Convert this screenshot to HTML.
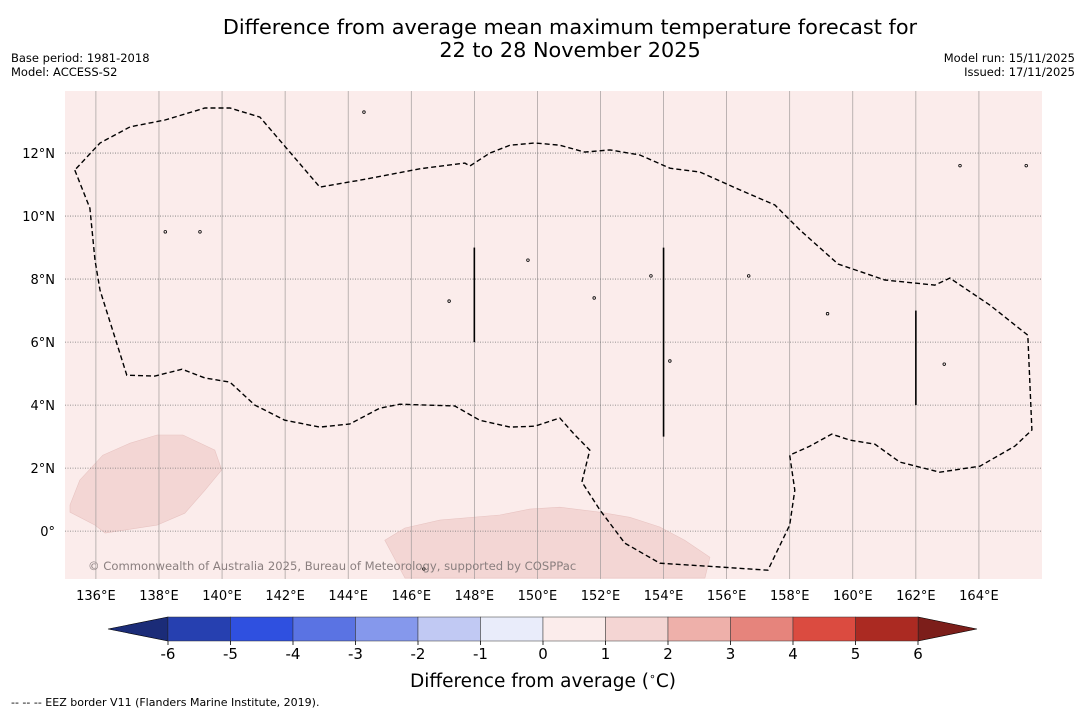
<!DOCTYPE html>
<html><head><meta charset="utf-8"><style>
html,body{margin:0;padding:0;background:#fff;}
svg{display:block;font-family:"DejaVu Sans","Liberation Sans",sans-serif;}
</style></head><body>
<svg id="chart" width="1085" height="713" viewBox="0 0 1085 713">
<text x="570" y="34" font-size="20.8" text-anchor="middle">Difference from average mean maximum temperature forecast for</text>
<text x="570" y="57" font-size="20.8" text-anchor="middle">22 to 28 November 2025</text>
<text x="11" y="62" font-size="11.5">Base period: 1981-2018</text>
<text x="11" y="76" font-size="11.5">Model: ACCESS-S2</text>
<text x="1075" y="62" font-size="11.5" text-anchor="end">Model run: 15/11/2025</text>
<text x="1075" y="76" font-size="11.5" text-anchor="end">Issued: 17/11/2025</text>
<g id="map"></g>
<g id="cbar"></g>
<text x="543" y="687" font-size="18.5" text-anchor="middle">Difference from average (<tspan font-size="11" dy="-7">∘</tspan><tspan dy="7">C)</tspan></text>
<text x="11" y="706" font-size="11">--  --  -- EEZ border V11 (Flanders Marine Institute, 2019).</text>
</svg>
<script>
const lonTicks=[136,138,140,142,144,146,148,150,152,154,156,158,160,162,164];
const latTicks=[0,2,4,6,8,10,12];
const cbarTicks=[-6,-5,-4,-3,-2,-1,0,1,2,3,4,5,6];
const cbarColors=["#2640b0","#2f50e0","#5a73e3","#8598ec","#c1c9f3","#e9ecfa","#fbeceb","#f4d5d3","#eeb0aa","#e6847c","#db4b40","#ab2a22"];
const eezLon=[135.33,135.81,135.97,136.13,136.98,137.87,138.73,139.46,140.25,141.04,141.99,143.10,144.05,145.0,145.64,147.38,148.17,149.13,149.92,150.71,151.19,151.66,151.41,151.98,152.77,153.88,155.78,157.31,158.0,158.16,158.0,158.64,159.33,159.91,160.70,161.49,162.76,164.03,165.14,165.68,165.55,164.35,163.08,162.6,161.02,159.53,158.32,157.53,156.42,155.15,154.2,153.25,152.30,151.50,150.71,149.92,149.13,148.49,147.86,147.70,146.27,144.37,143.10,141.2,140.25,139.46,138.19,137.08,136.13,135.33];
const eezLat=[11.46,10.25,8.60,7.65,4.95,4.92,5.14,4.86,4.73,4.0,3.52,3.30,3.40,3.90,4.03,3.97,3.52,3.30,3.33,3.59,3.05,2.57,1.56,0.67,-0.38,-1.02,-1.14,-1.24,0.19,1.30,2.41,2.70,3.08,2.89,2.76,2.19,1.87,2.06,2.70,3.21,6.22,7.17,8.03,7.81,7.97,8.48,9.56,10.35,10.83,11.40,11.52,11.94,12.10,12.03,12.25,12.32,12.25,12.0,11.59,11.68,11.50,11.14,10.92,13.14,13.43,13.43,13.05,12.83,12.32,11.46];
const blob1Lon=[135.18,135.49,136.22,137.08,137.94,138.76,139.77,139.99,139.46,138.82,137.94,136.29,135.97,135.18];
const blob1Lat=[0.83,1.62,2.41,2.79,3.05,3.05,2.57,1.94,1.30,0.57,0.19,-0.06,0.19,0.60];
const blob2Lon=[145.16,145.80,146.91,148.81,149.76,150.71,151.98,152.93,153.88,154.67,155.47,155.31,145.8];
const blob2Lat=[-0.29,0.10,0.35,0.51,0.70,0.76,0.60,0.44,0.13,-0.29,-0.83,-1.49,-1.49];
const lineLon=[148,154,162];
const lineLat0=[6,3,4];
const lineLat1=[9,9,7];
const islandLon=[144.5,139.3,156.7,159.2,162.9,154.2,151.8,153.6,147.2,149.7,138.2,163.4,165.5,146.4];
const islandLat=[13.3,9.5,8.1,6.9,5.3,5.4,7.4,8.1,7.3,8.6,9.5,11.6,11.6,-1.2];

const NS="http://www.w3.org/2000/svg";
const X0=65,X1=1042,Y0=91,Y1=579,LON0=135.02,LON1=166.0,LAT0=-1.52,LAT1=13.97;
const px=lon=>X0+(lon-LON0)/(LON1-LON0)*(X1-X0);
const py=lat=>Y1-(lat-LAT0)/(LAT1-LAT0)*(Y1-Y0);
function mk(tag,attrs,parent){const e=document.createElementNS(NS,tag);for(const k in attrs)e.setAttribute(k,attrs[k]);parent.appendChild(e);return e;}
const map=document.getElementById('map');
const defs=mk('defs',{},map);
const cp=mk('clipPath',{id:'clip'},defs);
mk('rect',{x:X0,y:Y0,width:X1-X0,height:Y1-Y0},cp);
let bg=mk('rect',{x:X0,y:Y0,width:X1-X0,height:Y1-Y0,fill:'#fbeceb'},map);


const g=mk('g',{'clip-path':'url(#clip)'},map);
function poly(lons,lats){return lons.map((l,i)=>px(l).toFixed(1)+','+py(lats[i]).toFixed(1)).join(' ');}
let b1=mk('polygon',{points:poly(blob1Lon,blob1Lat),fill:'#f3d6d4',stroke:'#e8c4c2','stroke-width':0.6},g);


let b2=mk('polygon',{points:poly(blob2Lon,blob2Lat),fill:'#f3d6d4',stroke:'#e8c4c2','stroke-width':0.6},g);


lonTicks.forEach(l=>{
  let ln=mk('line',{x1:px(l),x2:px(l),y1:Y0,y2:Y1,stroke:'#a09a9a','stroke-width':0.7},g);
  
  
  let t=mk('text',{x:px(l),y:Y1+21,'font-size':13,'text-anchor':'middle'},map);
  t.textContent=l+'°E';
  
  
});
latTicks.forEach(l=>{
  let ln=mk('line',{x1:X0,x2:X1,y1:py(l),y2:py(l),stroke:'#777','stroke-width':0.8,'stroke-dasharray':'1,1.5'},g);
  
  
  let t=mk('text',{x:X0-10,y:py(l)+5,'font-size':13,'text-anchor':'end'},map);
  t.textContent=l===0?'0°':l+'°N';
  
  
});
let eez=mk('polyline',{points:poly(eezLon,eezLat),fill:'none',stroke:'#000','stroke-width':1.4,'stroke-dasharray':'5,3'},g);


lineLon.forEach((l,i)=>{
  let ln=mk('line',{x1:px(l),x2:px(l),y1:py(lineLat0[i]),y2:py(lineLat1[i]),stroke:'#000','stroke-width':1.6},g);
  
  
});
islandLon.forEach((l,i)=>{
  let c=mk('circle',{cx:px(l),cy:py(islandLat[i]),r:1.3,fill:'none',stroke:'#000','stroke-width':0.8},g);
  
  
});
let cr=mk('text',{x:88,y:570,'font-size':11.6,fill:'#8a7f7f'},map);
cr.textContent='© Commonwealth of Australia 2025, Bureau of Meteorology, supported by COSPPac';



const cb=document.getElementById('cbar');
const CX0=168,CX1=918,CY0=617,CY1=641;
const cx=v=>CX0+(v-cbarTicks[0])/(cbarTicks[cbarTicks.length-1]-cbarTicks[0])*(CX1-CX0);
let lt=mk('polygon',{points:`108,629 ${CX0},${CY0} ${CX0},${CY1}`,fill:'#1b2c78',stroke:'#000','stroke-width':0.6},cb);


let rt=mk('polygon',{points:`977,629 ${CX1},${CY0} ${CX1},${CY1}`,fill:'#7c1e1a',stroke:'#000','stroke-width':0.6},cb);


cbarColors.forEach((c,i)=>{
  let r=mk('rect',{x:cx(cbarTicks[i]),y:CY0,width:cx(cbarTicks[i+1])-cx(cbarTicks[i]),height:CY1-CY0,fill:c,stroke:'#333','stroke-width':0.5},cb);
  
  
});
cbarTicks.forEach(v=>{
  mk('line',{x1:cx(v),x2:cx(v),y1:CY1,y2:CY1+4,stroke:'#000','stroke-width':0.8},cb);
  let t=mk('text',{x:cx(v),y:CY1+18,'font-size':15,'text-anchor':'middle'},cb);
  t.textContent=v;
  
  
});
</script>
</body></html>
